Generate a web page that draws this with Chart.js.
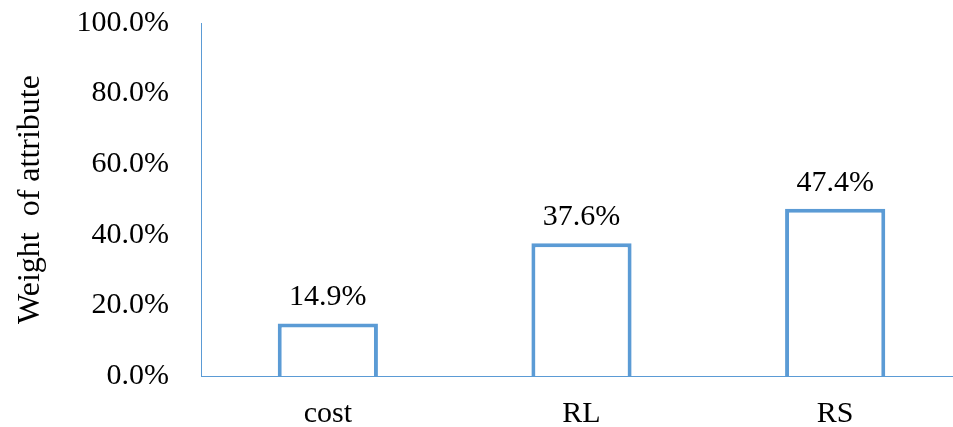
<!DOCTYPE html>
<html>
<head>
<meta charset="utf-8">
<script src="https://cdn.jsdelivr.net/npm/chart.js@4"></script>
<style>
  html, body { margin: 0; padding: 0; background: #fff; overflow: hidden; }
  #wrap { width: 953px; height: 427px; overflow: hidden; }
</style>
</head>
<body>
<div id="wrap"><canvas id="weightChart" width="962" height="427"></canvas></div>
<script>
const categories = ['cost', 'RL', 'RS'];
const weights = [14.9, 37.6, 47.4];
const yTicks = [0, 20, 40, 60, 80, 100];

const blue = '#5B9BD5';
const serif = "'Liberation Serif', 'Times New Roman', serif";
const fontSize = 30;

// value labels over each bar
const valueLabels = {
  id: 'valueLabels',
  afterDatasetsDraw(chart) {
    const ctx = chart.ctx;
    const meta = chart.getDatasetMeta(0);
    ctx.save();
    ctx.font = fontSize + 'px ' + serif;
    ctx.fillStyle = '#000';
    ctx.textAlign = 'center';
    ctx.textBaseline = 'alphabetic';
    meta.data.forEach((bar, i) => {
      ctx.fillText(weights[i].toFixed(1) + '%', bar.x, bar.y - 18);
    });
    ctx.restore();
  }
};

const ctx = document.getElementById('weightChart').getContext('2d');
const chart = new Chart(ctx, {
  type: 'bar',
  data: {
    labels: categories,
    datasets: [{
      data: weights,
      backgroundColor: '#ffffff',
      borderColor: blue,
      borderWidth: 4,
      categoryPercentage: 1,
      barPercentage: 0.395
    }]
  },
  options: {
    responsive: false,
    animation: false,
    layout: { padding: 0 },
    plugins: { legend: { display: false }, tooltip: { enabled: false } },
    scales: {
      x: {
        grid: { display: false, drawTicks: false },
        border: { display: true, color: blue, width: 1 },
        ticks: { color: '#000', font: { family: serif, size: fontSize }, padding: 20 },
        afterFit(scale) { scale.height = 51; }
      },
      y: {
        min: 0,
        max: 100,
        afterBuildTicks(scale) { scale.ticks = yTicks.map(v => ({ value: v })); },
        grid: { display: false, drawTicks: false },
        border: { display: true, color: blue, width: 1 },
        ticks: {
          color: '#000',
          font: { family: serif, size: fontSize },
          padding: 32,
          callback: v => v.toFixed(1) + '%'
        },
        title: {
          display: true,
          text: 'Weight  of attribute',
          color: '#000',
          font: { family: serif, size: 32 },
          padding: { top: 11, bottom: 0 }
        },
        afterFit(scale) {
          scale.width = 201;
          scale.paddingTop = 23;
          scale.paddingBottom = 0;
        }
      }
    }
  },
  plugins: [valueLabels]
});
</script>
</body>
</html>
